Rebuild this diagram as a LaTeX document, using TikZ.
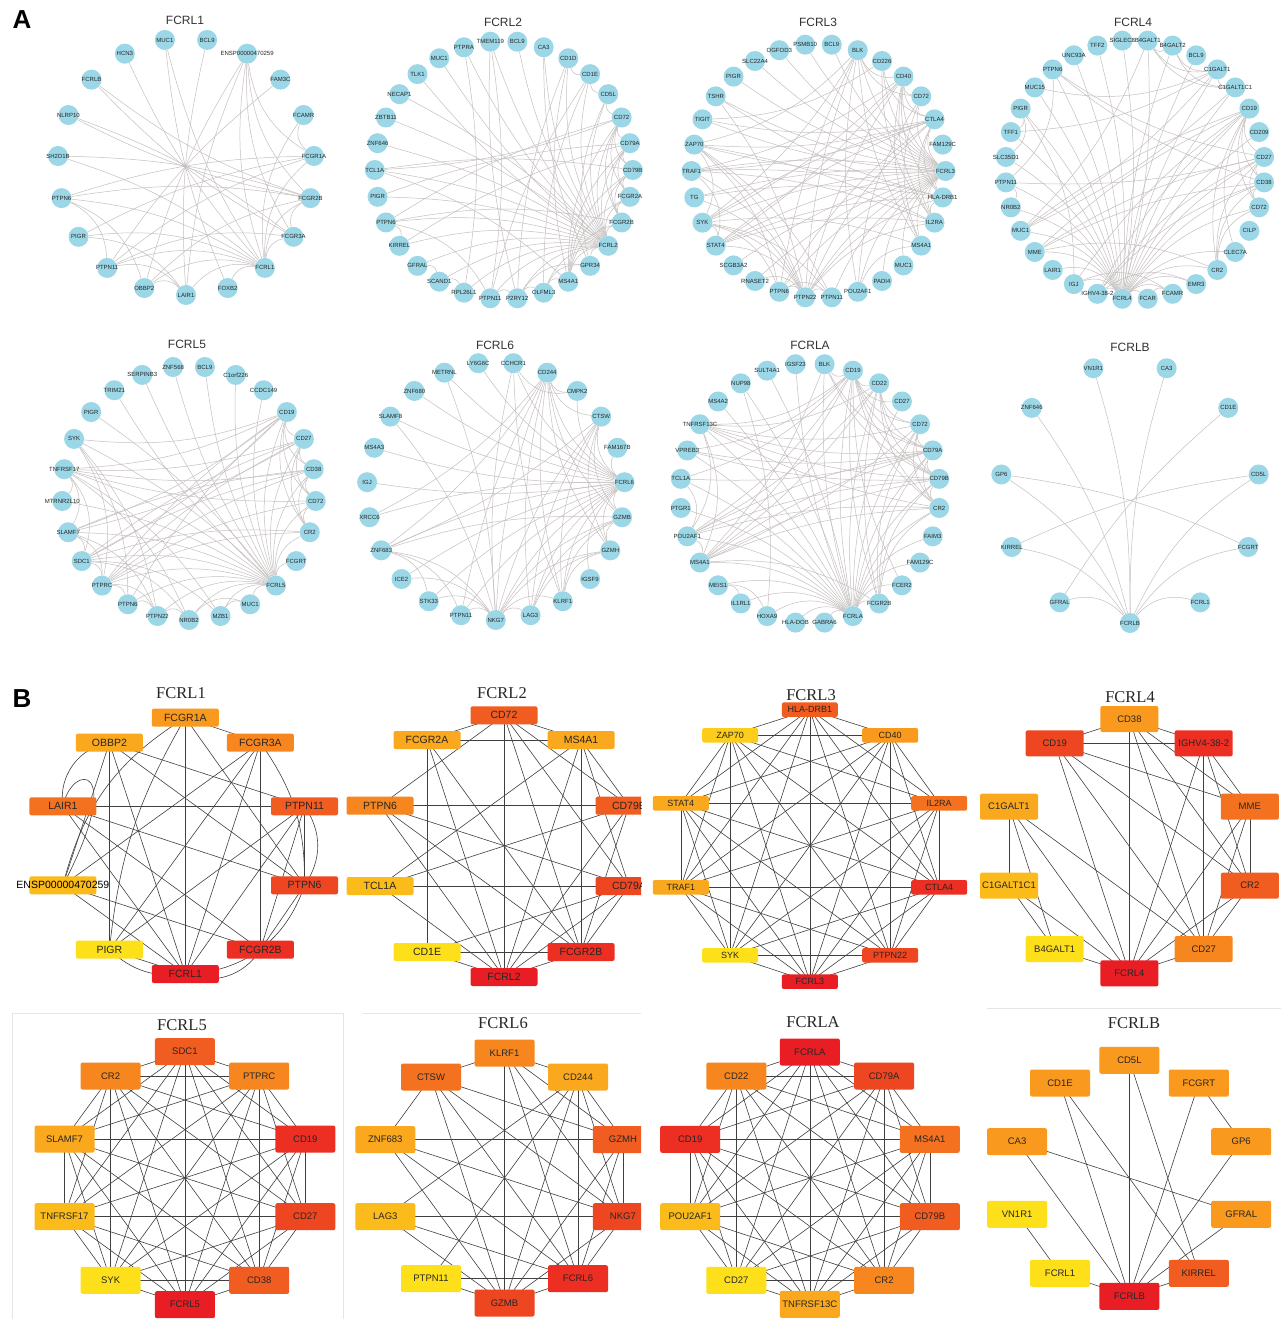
\documentclass[tikz,border=0pt]{standalone}
\usepackage{fontspec}
\setmainfont{Liberation Sans}
\newfontfamily\timesfont{Liberation Serif}
\usetikzlibrary{backgrounds}
\pgfdeclarelayer{bottom}
\pgfsetlayers{bottom,background,main}

\definecolor{anodec}{RGB}{155,215,230}
\definecolor{aedgec}{RGB}{198,191,191}
\definecolor{by1}{RGB}{253,224,25}
\definecolor{by2}{RGB}{252,205,26}
\definecolor{by3}{RGB}{251,187,27}
\definecolor{bo1}{RGB}{250,168,29}
\definecolor{bo2}{RGB}{249,153,29}
\definecolor{bo3}{RGB}{247,134,30}
\definecolor{bo4}{RGB}{244,114,31}
\definecolor{br1}{RGB}{241,92,32}
\definecolor{br2}{RGB}{238,70,33}
\definecolor{br3}{RGB}{236,46,35}
\definecolor{br4}{RGB}{233,30,37}

\tikzset{
 anode/.style={circle,fill=anodec,minimum size=20pt,inner sep=0pt,font=\fontsize{6}{7}\selectfont,text=black!85},
 aedge/.style={draw=aedgec,line width=0.5pt},
 atitle/.style={font=\fontsize{12}{14}\selectfont,text=black!80},
 btitle/.style={font=\timesfont\fontsize{16.5}{19}\selectfont,text=black!85},
 bbox/.style={rectangle,rounded corners=2pt,inner sep=0pt,text=black!85},
 bsA/.style={bbox,minimum width=67pt,minimum height=18pt,font=\fontsize{10.5}{12}\selectfont},
 bsB/.style={bbox,minimum width=56pt,minimum height=14.5pt,font=\fontsize{9}{10}\selectfont},
 bsC/.style={bbox,minimum width=58pt,minimum height=26pt,font=\fontsize{9.5}{11}\selectfont},
 bsD/.style={bbox,minimum width=60pt,minimum height=27pt,font=\fontsize{9.5}{11}\selectfont},
 bedge/.style={draw=black!75,line width=0.6pt},
 panelletter/.style={font=\bfseries\fontsize{26}{28}\selectfont},
}

% panel A circular network: prefix, cx, cy, r, start angle, N, labels
\newcommand{\anet}[7]{%
 \foreach \lab [count=\i from 0] in {#7} {%
   \node[anode] (#1n\i) at ({#2+#4*cos(#5-\i*360/#6)},{#3-#4*sin(#5-\i*360/#6)}) {\makebox[0pt]{\lab}};
 }}
% one curved edge bent toward the circle centre
\newcommand{\adraw}[4]{%
  \pgfmathtruncatemacro{\adist}{mod(#3-#4+2*#2,#2)}%
  \pgfmathtruncatemacro{\akk}{min(\adist,#2-\adist)}%
  \pgfmathsetmacro{\abend}{8+36*(1-2*\akk/#2)^2}%
  \ifnum\numexpr2*\adist\relax<#2\relax
    \draw[aedge] (#1n#3) to[bend left=\abend] (#1n#4);
  \else
    \draw[aedge] (#1n#3) to[bend right=\abend] (#1n#4);
  \fi}
\newcommand{\aedges}[3]{\begin{pgfonlayer}{background}\foreach \u/\v in {#3}{\adraw{#1}{#2}{\u}{\v}}\end{pgfonlayer}}
\newcommand{\ahub}[4]{\begin{pgfonlayer}{background}\foreach \v in {#4}{\adraw{#1}{#2}{#3}{\v}}\end{pgfonlayer}}

% panel B
\newcommand{\bnode}[6]{\node[#1,fill=#5] (#2) at (#3,#4) {\makebox[0pt]{#6}};}
\newcommand{\bedges}[2]{\begin{pgfonlayer}{background}\foreach \u/\v in {#2}{\draw[bedge] (#1n\u.center) -- (#1n\v.center);}\end{pgfonlayer}}
\newcommand{\bfull}[1]{\begin{pgfonlayer}{background}\foreach \u in {0,...,8}{\pgfmathtruncatemacro{\ustart}{\u+1}\foreach \v in {\ustart,...,9}{\draw[bedge] (#1n\u.center) -- (#1n\v.center);}}\end{pgfonlayer}}

\begin{document}
\begin{tikzpicture}[x=1pt,y=-1pt]
\useasboundingbox (0,0) rectangle (1281,1319);
\begin{pgfonlayer}{bottom}
\fill[white] (0,0) rectangle (1281,1319);
\draw[black!10,line width=0.5pt] (12,1319) -- (12,1013) -- (343,1013) -- (343,1319);
\draw[black!10,line width=0.5pt] (363,1013) -- (641,1013);
\draw[black!10,line width=0.5pt] (987,1008) -- (1281,1008);
\end{pgfonlayer}

\node[panelletter] (pA) at (22,20) {A};
\node[panelletter] (pB) at (22,699) {B};

% ================= PANEL A =================
\node[atitle] (ta1) at (185,20) {FCRL1};
\node[atitle] (ta2) at (503,22) {FCRL2};
\node[atitle] (ta3) at (818,22) {FCRL3};
\node[atitle] (ta4) at (1133,22) {FCRL4};
\node[atitle] (ta5) at (187,344) {FCRL5};
\node[atitle] (ta6) at (495,345) {FCRL6};
\node[atitle] (ta7) at (810,345) {FCRLA};
\node[atitle] (ta8) at (1130,347) {FCRLB};

% FCRL1
\anet{a1}{186}{166.6}{128.4}{80.53}{19}{BCL9,ENSP00000470259,FAM3C,FCAMR,FCGR1A,FCGR2B,FCGR3A,FCRL1,FOXB2,LAIR1,OBBP2,PTPN11,PIGR,PTPN6,SH2D1B,NLRP10,FCRLB,HCN3,MUC1}
\ahub{a1}{19}{7}{18,17,14,13,12,11,10,9,8,6,5,4,1,3}
\aedges{a1}{19}{0/9,1/10,1/9,1/4,1/5,1/6,2/11,3/4,4/13,4/12,4/11,5/14,5/15,5/13,5/6,5/10,6/16,11/13,11/9,10/9,8/18,12/9,13/10,6/11,16/5,15/6}

% FCRL2
\anet{a2}{503.8}{170}{129}{96}{30}{TMEM119,BCL9,CA3,CD1D,CD1E,CD5L,CD72,CD79A,CD79B,FCGR2A,FCGR2B,FCRL2,GPR34,MS4A1,OLFML3,P2RY12,PTPN11,RPL26L1,SCAND1,GFRAL,KIRREL,PTPN6,PIGR,TCL1A,ZNF646,ZBTB11,NECAP1,TLK1,MUC1,PTPRA}
\ahub{a2}{30}{11}{0,1,2,3,4,5,6,7,8,9,10,12,13,14,15,16,17,18,19,20,21,22,23,24,25,26,27,28,29}
\aedges{a2}{30}{6/7,6/8,6/9,6/10,6/13,6/21,6/23,7/8,7/9,7/10,7/13,7/22,7/20,8/9,8/10,8/13,8/23,9/10,9/13,10/13,10/21,13/23,3/4,4/5,4/14,3/15,5/6,2/12,12/15,14/15,15/16,0/16,0/15,29/17,17/18,12/14,13/14,16/21,21/20,19/18,4/16,3/13,5/12}

% FCRL3
\anet{a3}{818.5}{171}{127}{84}{30}{BCL9,BLK,CD226,CD40,CD72,CTLA4,FAM129C,FCRL3,HLA-DRB1,IL2RA,MS4A1,MUC1,PADI4,POU2AF1,PTPN11,PTPN22,PTPN6,RNASET2,SCGB3A2,STAT4,SYK,TG,TRAF1,ZAP70,TIGIT,TSHR,PIGR,SLC22A4,OGFOD3,PSMB10}
\ahub{a3}{30}{7}{0,1,2,3,4,5,8,9,10,11,12,13,14,15,16,17,18,19,20,21,22,23,24,25,26,27,28,29}
\aedges{a3}{30}{5/3,5/9,5/15,5/19,5/20,5/22,5/23,5/8,5/24,5/2,5/16,1/20,1/23,1/10,1/13,1/15,1/16,1/3,1/4,3/9,3/15,3/19,3/22,3/8,3/4,3/10,3/20,9/15,9/19,9/22,9/8,9/23,9/2,15/19,15/22,15/23,15/20,15/8,15/21,15/25,15/17,15/14,15/16,8/19,8/22,8/21,8/25,19/22,19/20,20/23,20/16,20/14,20/10,23/16,23/14,2/24,14/16,4/10,4/13,10/13}

% FCRL4
\anet{a4}{1135}{169.7}{129.7}{84.375}{32}{B4GALT1,B4GALT2,BCL9,C1GALT1,C1GALT1C1,CD19,CD209,CD27,CD38,CD72,CILP,CLEC7A,CR2,EMR3,FCAMR,FCAR,FCRL4,IGHV4-38-2,IGJ,LAIR1,MME,MUC1,NR0B2,PTPN11,SLC35D1,TFF1,PIGR,MUC15,PTPN6,UNC93A,TFF2,SIGLEC8}
\ahub{a4}{32}{16}{0,1,2,3,4,5,6,7,8,9,11,12,13,14,15,17,18,19,20,21,22,23,24,25,26,27,28,29,30,31}
\aedges{a4}{32}{5/7,5/8,5/9,5/12,5/17,5/20,5/18,5/21,7/8,7/12,7/17,7/20,7/9,8/12,8/17,8/20,8/9,3/4,3/0,3/1,3/21,3/27,3/25,4/0,4/1,4/21,0/1,0/21,28/23,28/7,28/8,26/18,26/24,26/25,23/22,23/7,12/20,12/9,14/15,14/18,11/5,13/17}

% FCRL5
\anet{a5}{189}{493}{127}{82.8}{25}{BCL9,C1orf226,CCDC149,CD19,CD27,CD38,CD72,CR2,FCGRT,FCRL5,MUC1,MZB1,NR0B2,PTPN22,PTPN6,PTPRC,SDC1,SLAMF7,MTRNR2L10,TNFRSF17,SYK,PIGR,TRIM21,SERPINB3,ZNF568}
\ahub{a5}{25}{9}{0,1,2,3,4,5,6,7,8,10,11,12,13,14,15,16,17,18,19,20,21,22,23,24}
\aedges{a5}{25}{3/4,3/5,3/6,3/7,3/15,3/16,3/17,3/19,3/20,3/14,4/5,4/6,4/7,4/15,4/16,4/17,4/19,5/6,5/7,5/15,5/16,5/17,5/19,6/7,6/15,6/19,7/15,7/16,15/14,15/13,15/16,15/17,15/20,16/17,16/19,16/11,16/12,17/19,17/13,19/18,19/11,19/12,20/14,20/13,10/11,10/12,13/12,13/14}

% FCRL6
\anet{a6}{495.8}{491}{129}{82.17}{23}{CCHCR1,CD244,CMPK2,CTSW,FAM167B,FCRL6,GZMB,GZMH,IGSF9,KLRF1,LAG3,NKG7,PTPN11,STK33,ICE2,ZNF683,XRCC6,IGJ,MS4A3,SLAMF8,ZNF680,METRNL,LY6G6C}
\ahub{a6}{23}{5}{0,1,2,3,4,6,7,8,9,10,11,12,13,14,15,16,17,18,19,20,21,22}
\aedges{a6}{23}{1/2,1/3,1/6,1/7,1/9,1/11,1/10,1/12,1/15,1/16,3/6,3/7,3/9,3/11,3/15,3/10,6/7,6/9,6/11,6/10,6/15,7/9,7/11,7/10,9/11,11/10,11/12,11/13,11/15,11/14,0/2,0/11,0/9,15/12,15/13,19/11,21/11}

% FCRLA
\anet{a7}{810}{493.4}{130}{83.57}{28}{BLK,CD19,CD22,CD27,CD72,CD79A,CD79B,CR2,FAIM3,FAM129C,FCER2,FCGR2B,FCRLA,GABRA6,HLA-DOB,HOXA9,IL1RL1,MEIS1,MS4A1,POU2AF1,PTGR1,TCL1A,VPREB3,TNFRSF13C,MS4A2,NUP98,SULT4A1,IGSF23}
\ahub{a7}{28}{12}{0,1,2,3,4,5,6,7,8,9,10,11,13,14,15,16,17,18,19,20,21,22,23,24,25,26,27}
\aedges{a7}{28}{1/2,1/3,1/4,1/5,1/6,1/7,1/10,1/11,1/18,1/19,1/21,1/22,1/23,1/0,5/0,5/2,5/4,5/6,5/7,5/11,5/18,5/19,5/21,5/22,5/23,6/0,6/2,6/4,6/7,6/11,6/18,6/19,6/22,6/23,18/0,18/2,18/4,18/7,18/11,18/19,18/23,2/4,2/7,2/11,2/19,2/23,4/7,4/11,4/23,7/11,7/19,7/23,19/23,19/21,15/17,25/15,16/17}

% FCRLB
\anet{a8}{1130}{493}{130}{73.64}{11}{CA3,CD1E,CD5L,FCGRT,FCRL1,FCRLB,GFRAL,KIRREL,GP6,ZNF646,VN1R1}
\ahub{a8}{11}{5}{0,2,3,4,6,7,8,9,10}
\aedges{a8}{11}{1/6,2/7,8/3}

% ================= PANEL B =================
\node[btitle] (tb1) at (181,693) {FCRL1};
\node[btitle] (tb2) at (502,693) {FCRL2};
\node[btitle] (tb3) at (811,695) {FCRL3};
\node[btitle] (tb4) at (1130,697) {FCRL4};
\node[btitle] (tb5) at (182,1025) {FCRL5};
\node[btitle] (tb6) at (503,1023) {FCRL6};
\node[btitle] (tb7) at (813,1022) {FCRLA};
\node[btitle] (tb8) at (1134,1023) {FCRLB};

% B FCRL1
\bnode{bsA}{b1n0}{185.3}{717.7}{bo2}{FCGR1A}
\bnode{bsA}{b1n1}{260.4}{742.7}{bo3}{FCGR3A}
\bnode{bsA}{b1n2}{304.5}{806.3}{br1}{PTPN11}
\bnode{bsA}{b1n3}{304.5}{885.3}{br2}{PTPN6}
\bnode{bsA}{b1n4}{260.4}{949.7}{br3}{FCGR2B}
\bnode{bsA}{b1n5}{185.3}{974}{br4}{FCRL1}
\bnode{bsA}{b1n6}{109.4}{949.7}{by1}{PIGR}
\bnode{bsA}{b1n7}{62.9}{885.3}{by3}{\textcolor{black}{ENSP00000470259}}
\bnode{bsA}{b1n8}{62.9}{806.3}{bo4}{LAIR1}
\bnode{bsA}{b1n9}{109.4}{742.7}{bo1}{OBBP2}
\bedges{b1}{0/1,0/5,0/3,9/2,9/3,9/6,9/7,9/5,1/5,1/4,1/7,1/6,8/2,8/3,8/5,8/4,2/5,2/4,2/3,2/6,7/4,7/5,6/5,3/4}
\begin{pgfonlayer}{background}
\draw[bedge] (b1n0.center) to[bend right=22] (b1n7.center);
\draw[bedge] (b1n0.center) to[bend right=12] (b1n6.center);
\draw[bedge] (b1n9.center) to[bend right=45] (b1n8.center);
\draw[bedge] (b1n1.center) to[bend left=18] (b1n3.center);
\draw[bedge] (b1n2.center) to[bend left=35] (b1n3.center);
\draw[bedge] (b1n3.center) to[bend left=35] (b1n5.center);
\draw[bedge] (b1n4.center) to[bend left=40] (b1n5.center);
\draw[bedge] (b1n8.center) .. controls (72,762) and (128,762) .. (b1n7.center);
\draw[bedge] (b1n6.center) to[bend right=25] (b1n5.center);
\end{pgfonlayer}

% B FCRL2 (clipped at the right)
\begin{scope}
\clip (335,680) rectangle (641,1000);
\bnode{bsA}{b2n0}{504}{715.3}{br1}{CD72}
\bnode{bsA}{b2n1}{581}{740}{bo1}{MS4A1}
\bnode{bsA}{b2n2}{629}{805.7}{br1}{CD79B}
\bnode{bsA}{b2n3}{629}{886}{br2}{CD79A}
\bnode{bsA}{b2n4}{581}{952}{br3}{FCGR2B}
\bnode{bsA}{b2n5}{504}{977}{br4}{FCRL2}
\bnode{bsA}{b2n6}{427}{952}{by1}{CD1E}
\bnode{bsA}{b2n7}{380}{886}{by3}{TCL1A}
\bnode{bsA}{b2n8}{380}{805.7}{bo3}{PTPN6}
\bnode{bsA}{b2n9}{427}{740}{bo1}{FCGR2A}
\end{scope}
\begin{pgfonlayer}{background}
\begin{scope}
\clip (335,680) rectangle (641,1000);
\foreach \u/\v in {0/9,0/1,0/5,0/8,0/2,0/3,0/4,9/1,9/6,9/4,9/5,1/7,1/2,1/3,1/4,1/5,8/2,8/4,8/5,8/3,2/7,2/5,2/4,7/3,7/5,3/6,3/5,3/4,6/4,6/5,4/5}{\draw[bedge] (b2n\u.center) -- (b2n\v.center);}
\end{scope}
\end{pgfonlayer}

% B FCRL3
\bnode{bsB}{b3n0}{809.8}{709.7}{br1}{HLA-DRB1}
\bnode{bsB}{b3n1}{890.2}{735.3}{bo2}{CD40}
\bnode{bsB}{b3n2}{939.2}{803.3}{bo4}{IL2RA}
\bnode{bsB}{b3n3}{939.2}{887.3}{br3}{CTLA4}
\bnode{bsB}{b3n4}{890.2}{955.3}{br2}{PTPN22}
\bnode{bsB}{b3n5}{809.8}{981.7}{br4}{FCRL3}
\bnode{bsB}{b3n6}{730.2}{955.3}{by1}{SYK}
\bnode{bsB}{b3n7}{680.8}{887.3}{bo1}{TRAF1}
\bnode{bsB}{b3n8}{680.8}{803.3}{bo1}{STAT4}
\bnode{bsB}{b3n9}{730.2}{735.3}{by2}{ZAP70}
\bfull{b3}

% B FCRL4
\bnode{bsC}{b4n0}{1129.4}{719}{bo2}{CD38}
\bnode{bsC}{b4n1}{1203.7}{743.3}{br3}{IGHV4-38-2}
\bnode{bsC}{b4n2}{1249.8}{806.7}{bo4}{MME}
\bnode{bsC}{b4n3}{1249.8}{885.7}{br1}{CR2}
\bnode{bsC}{b4n4}{1203.7}{949}{bo3}{CD27}
\bnode{bsC}{b4n5}{1129.4}{973.3}{br4}{FCRL4}
\bnode{bsC}{b4n6}{1054.7}{949}{by1}{B4GALT1}
\bnode{bsC}{b4n7}{1009}{885.7}{by3}{C1GALT1C1}
\bnode{bsC}{b4n8}{1009}{806.7}{bo1}{C1GALT1}
\bnode{bsC}{b4n9}{1054.7}{743.3}{br2}{CD19}
\bedges{b4}{0/9,0/1,9/1,0/5,0/2,0/3,0/4,9/5,9/4,9/2,9/3,1/5,1/4,1/2,1/3,2/3,2/5,2/4,3/5,3/4,8/7,8/6,8/5,8/4,7/6,7/5,6/5,4/5}

% B FCRL5
\bnode{bsD}{b5n0}{184.9}{1051.7}{br1}{SDC1}
\bnode{bsD}{b5n1}{259.2}{1076}{bo3}{PTPRC}
\bnode{bsD}{b5n2}{305.3}{1139}{br3}{CD19}
\bnode{bsD}{b5n3}{305.3}{1216.7}{br2}{CD27}
\bnode{bsD}{b5n4}{259.2}{1280.3}{br1}{CD38}
\bnode{bsD}{b5n5}{184.9}{1304.7}{br4}{FCRL5}
\bnode{bsD}{b5n6}{110.6}{1280.3}{by1}{SYK}
\bnode{bsD}{b5n7}{64.5}{1216.7}{by3}{TNFRSF17}
\bnode{bsD}{b5n8}{64.5}{1139}{bo1}{SLAMF7}
\bnode{bsD}{b5n9}{110.6}{1076}{bo3}{CR2}
\bfull{b5}

% B FCRL6 (clipped at the right)
\begin{scope}
\clip (355,1015) rectangle (641,1319);
\bnode{bsD}{b6n0}{504.5}{1053}{bo3}{KLRF1}
\bnode{bsD}{b6n1}{578}{1077}{bo1}{CD244}
\bnode{bsD}{b6n2}{622.9}{1139.7}{br1}{GZMH}
\bnode{bsD}{b6n3}{622.9}{1216.7}{br2}{NKG7}
\bnode{bsD}{b6n4}{578}{1278.7}{br3}{FCRL6}
\bnode{bsD}{b6n5}{504.5}{1303}{br2}{GZMB}
\bnode{bsD}{b6n6}{431}{1278.7}{by1}{PTPN11}
\bnode{bsD}{b6n7}{385.3}{1216.7}{by3}{LAG3}
\bnode{bsD}{b6n8}{385.3}{1139.7}{bo1}{ZNF683}
\bnode{bsD}{b6n9}{431}{1077}{bo4}{CTSW}
\end{scope}
\begin{pgfonlayer}{background}
\begin{scope}
\clip (355,1015) rectangle (641,1319);
\foreach \u/\v in {0/9,0/1,0/5,0/2,0/3,0/4,9/8,9/2,9/4,9/5,9/3,1/2,1/3,1/4,1/5,1/7,1/6,8/2,8/3,8/4,8/5,7/3,7/5,7/4,6/4,6/5,2/3,2/4,2/5,3/4,3/5,4/5}{\draw[bedge] (b6n\u.center) -- (b6n\v.center);}
\end{scope}
\end{pgfonlayer}

% B FCRLA
\bnode{bsD}{b7n0}{809.8}{1052}{br4}{FCRLA}
\bnode{bsD}{b7n1}{884.1}{1076}{br2}{CD79A}
\bnode{bsD}{b7n2}{929.8}{1139.3}{bo4}{MS4A1}
\bnode{bsD}{b7n3}{929.8}{1216.7}{br1}{CD79B}
\bnode{bsD}{b7n4}{884.1}{1280.3}{bo3}{CR2}
\bnode{bsD}{b7n5}{809.8}{1304.3}{bo1}{TNFRSF13C}
\bnode{bsD}{b7n6}{736.3}{1280.3}{by1}{CD27}
\bnode{bsD}{b7n7}{690.2}{1216.7}{by3}{POU2AF1}
\bnode{bsD}{b7n8}{690.2}{1139.3}{br3}{CD19}
\bnode{bsD}{b7n9}{736.3}{1076}{bo3}{CD22}
\bfull{b7}

% B FCRLB
\bnode{bsD}{b8n0}{1129.4}{1060.3}{bo2}{CD5L}
\bnode{bsD}{b8n1}{1198.8}{1083}{bo2}{FCGRT}
\bnode{bsD}{b8n2}{1241.2}{1141.7}{bo2}{GP6}
\bnode{bsD}{b8n3}{1241.2}{1214.3}{bo2}{GFRAL}
\bnode{bsD}{b8n4}{1198.8}{1273.3}{br1}{KIRREL}
\bnode{bsD}{b8n5}{1129.4}{1296.3}{br4}{FCRLB}
\bnode{bsD}{b8n6}{1060}{1273.3}{by1}{FCRL1}
\bnode{bsD}{b8n7}{1017.1}{1214.3}{by1}{VN1R1}
\bnode{bsD}{b8n8}{1017.1}{1141.7}{bo2}{CA3}
\bnode{bsD}{b8n9}{1060}{1083}{bo2}{CD1E}
\bedges{b8}{0/5,0/4,9/5,9/4,1/5,1/2,8/5,8/3,2/5,7/6,3/5,6/5,4/5}

\end{tikzpicture}
\end{document}
